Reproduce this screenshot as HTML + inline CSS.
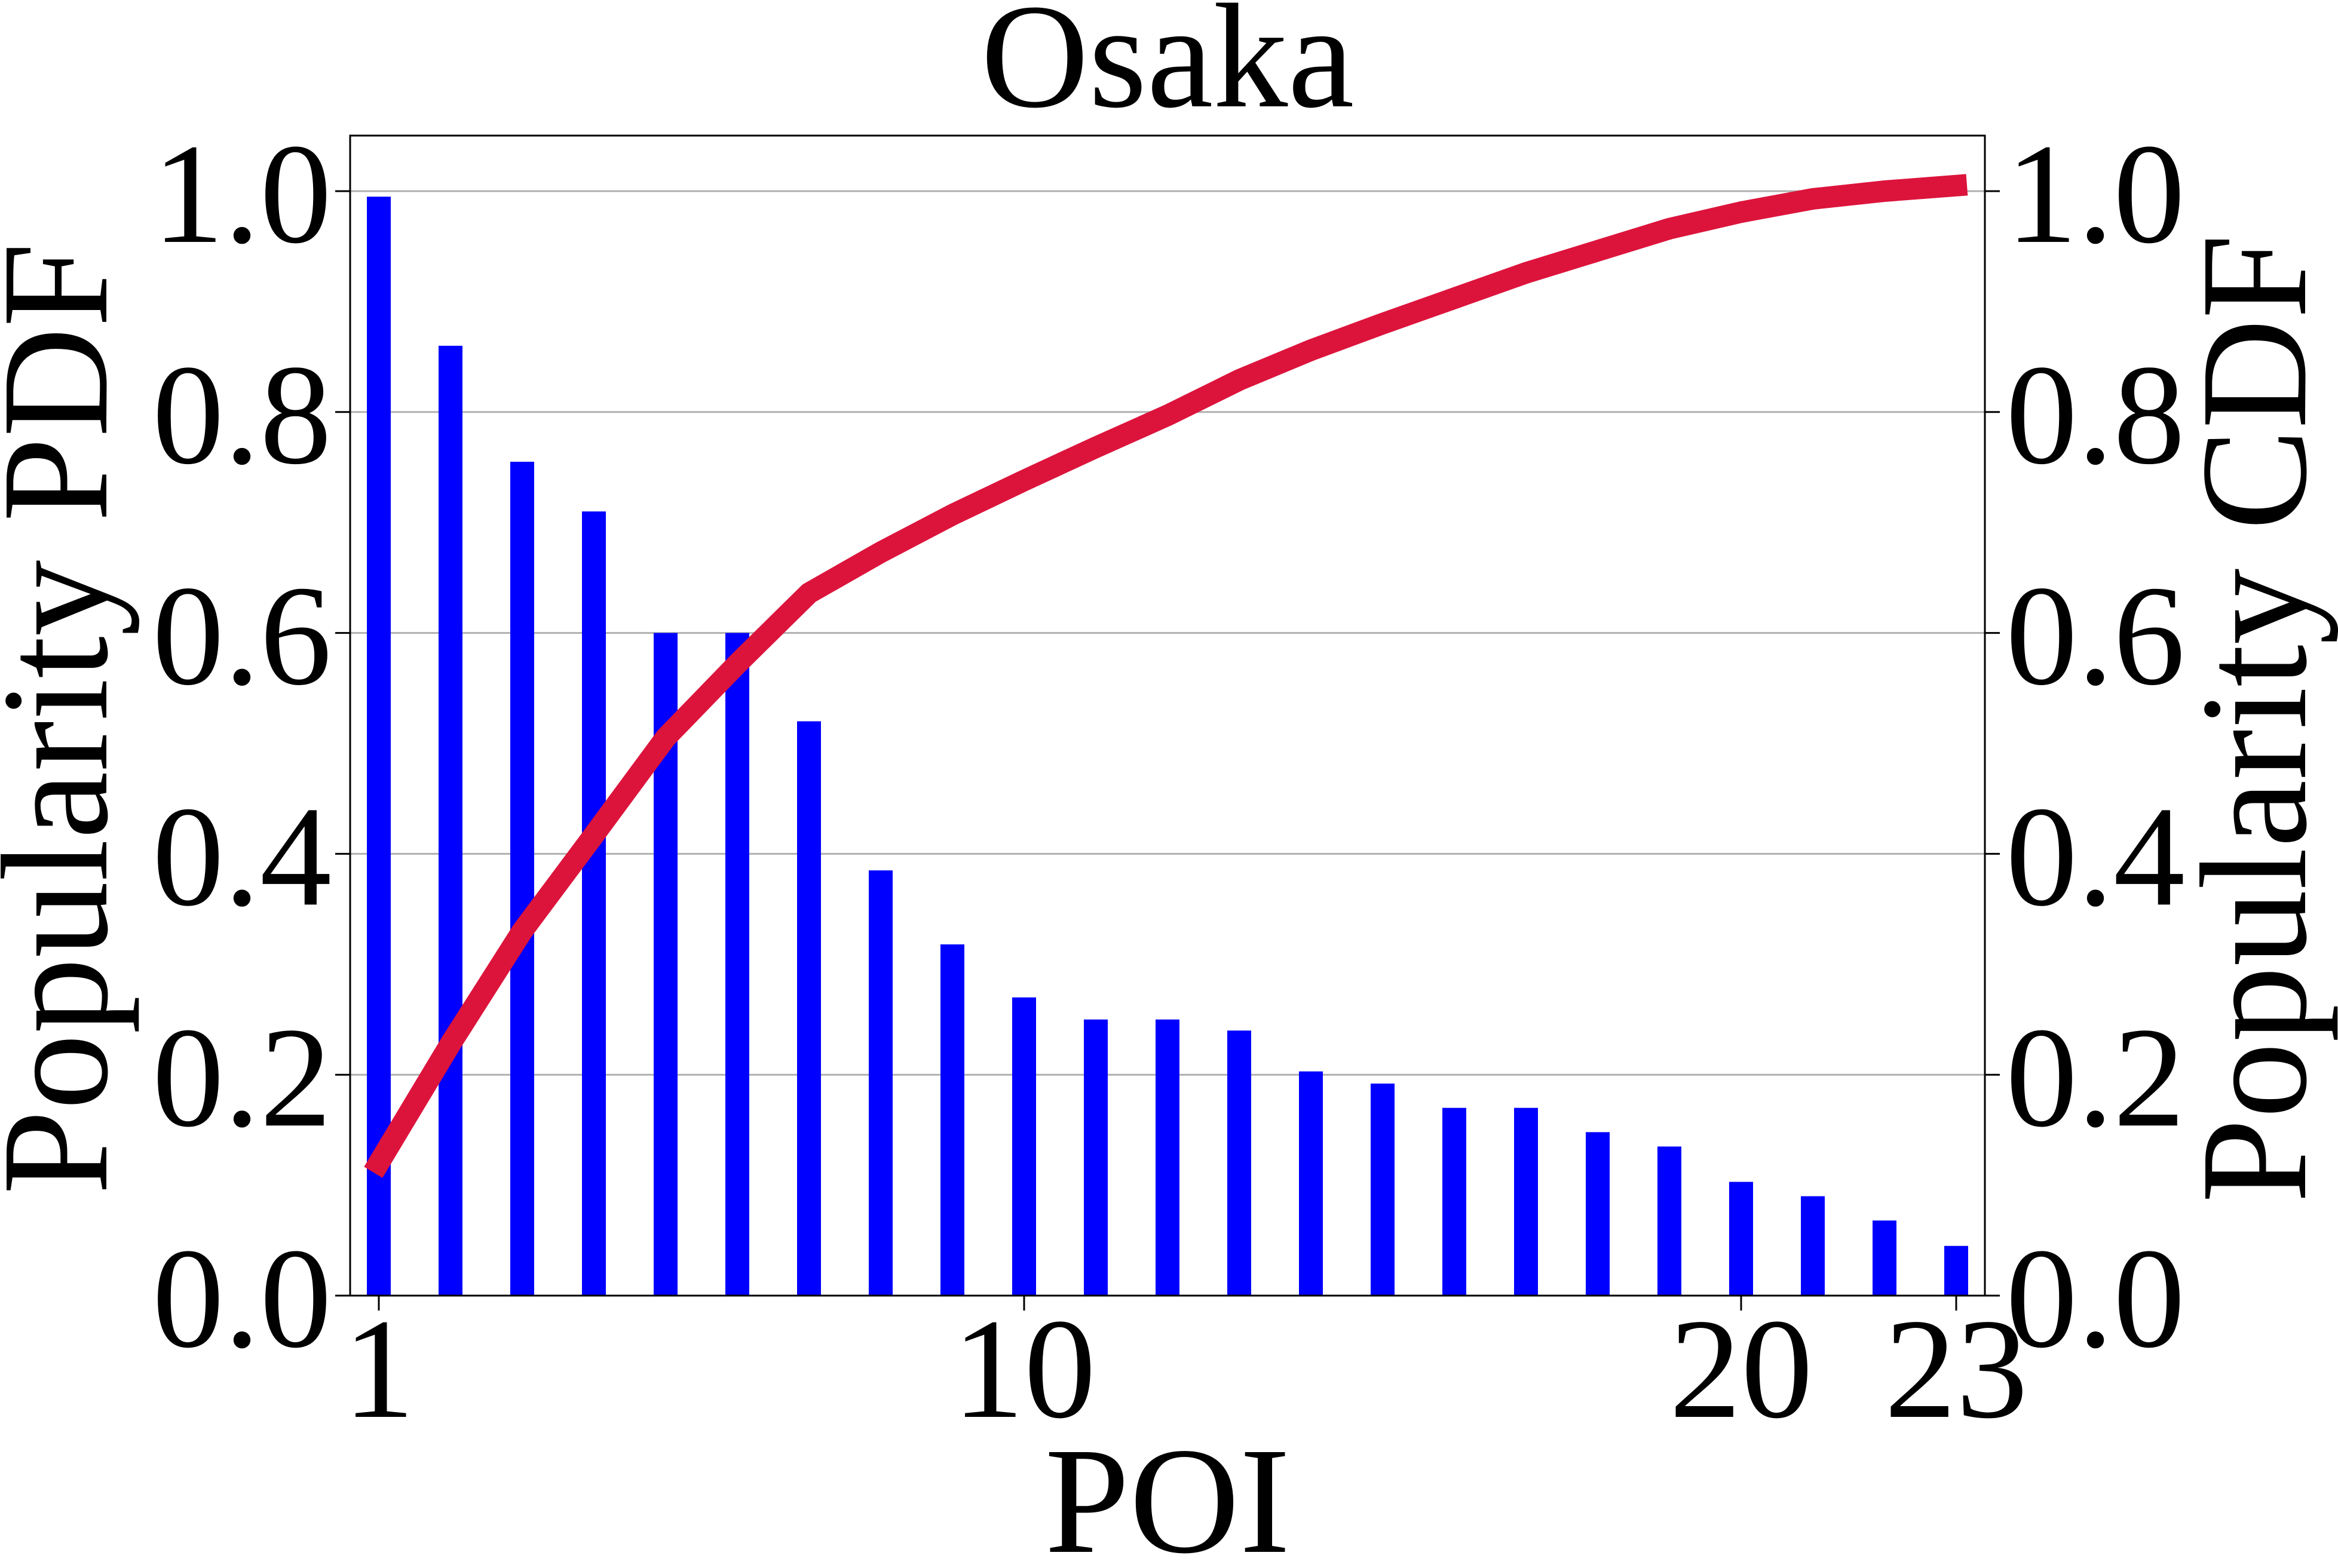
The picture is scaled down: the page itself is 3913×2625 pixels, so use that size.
<!DOCTYPE html>
<html><head><meta charset="utf-8"><style>html,body{margin:0;padding:0;background:#fff}svg{display:block}text{font-family:"Liberation Serif","Times New Roman",serif}</style></head>
<body>
<svg id="chart" width="3913" height="2625" viewBox="0 0 3913 2625" xmlns="http://www.w3.org/2000/svg" style="font-family:'Liberation Serif',serif">
<g id="grid"></g>
<g id="bars"></g>
<g id="line"></g>
<rect x="586" y="227" width="2736" height="1942" fill="none" stroke="#000" stroke-width="3"/>
<g id="ticks"></g>
<text x="1954" y="178" font-size="250" text-anchor="middle">Osaka</text>
<text x="1954" y="2598" font-size="255" text-anchor="middle">POI</text>
<text transform="translate(178,1203) rotate(-90)" font-size="255" text-anchor="middle">Popularity PDF</text>
<text transform="translate(3858,1203) rotate(-90)" font-size="255" text-anchor="middle">Popularity CDF</text>
</svg>
<script>
const pdfValues=[0.995,0.86,0.755,0.71,0.60,0.60,0.52,0.385,0.318,0.27,0.25,0.25,0.24,0.203,0.192,0.17,0.17,0.148,0.135,0.103,0.09,0.068,0.045];
const cdfValues=[0.12,0.228,0.33,0.417,0.505,0.572,0.636,0.673,0.707,0.738,0.768,0.797,0.829,0.856,0.88,0.903,0.926,0.946,0.966,0.981,0.993,1.0,1.005];
const xTicks=[1,10,20,23];
const yTicks=[0.0,0.2,0.4,0.6,0.8,1.0];
const NS="http://www.w3.org/2000/svg";
const X=v=>634+(v-1)*120;
const Y=v=>2169-v*1849;
function mk(tag,attrs,parent){const e=document.createElementNS(NS,tag);for(const k in attrs)e.setAttribute(k,attrs[k]);document.getElementById(parent).appendChild(e);return e;}
yTicks.forEach((t,i)=>{
  const g=mk('line',{x1:586,x2:3322,y1:Y(t),y2:Y(t),stroke:'#b0b0b0','stroke-width':3},'grid');
  
  
  const l=mk('line',{x1:561,x2:586,y1:Y(t),y2:Y(t),stroke:'#000','stroke-width':3},'ticks');
  
  
  const r=mk('line',{x1:3322,x2:3347,y1:Y(t),y2:Y(t),stroke:'#000','stroke-width':3},'ticks');
  
  
  const lt=mk('text',{x:555,y:Y(t)+85,'font-size':240,'text-anchor':'end'},'ticks');lt.textContent=t.toFixed(1);
  
  
  const rt=mk('text',{x:3357,y:Y(t)+85,'font-size':240},'ticks');rt.textContent=t.toFixed(1);
  
  
});
xTicks.forEach(t=>{
  const l=mk('line',{x1:X(t),x2:X(t),y1:2169,y2:2194,stroke:'#000','stroke-width':3},'ticks');
  
  
  const tx=mk('text',{x:X(t),y:2372,'font-size':240,'text-anchor':'middle'},'ticks');tx.textContent=t;
  
  
});
pdfValues.forEach((v,i)=>{
  const b=mk('rect',{x:X(i+1)-20,y:Y(v),width:40,height:2169-Y(v),fill:'#0000ff'},'bars');
  
  
});
const pts=cdfValues.map((v,i)=>X(i+1)+','+Y(v)).join(' ');
const pl=mk('polyline',{points:pts,fill:'none',stroke:'#dc143c','stroke-width':36,'stroke-linejoin':'round','stroke-linecap':'square'},'line');


</script>
</body></html>
